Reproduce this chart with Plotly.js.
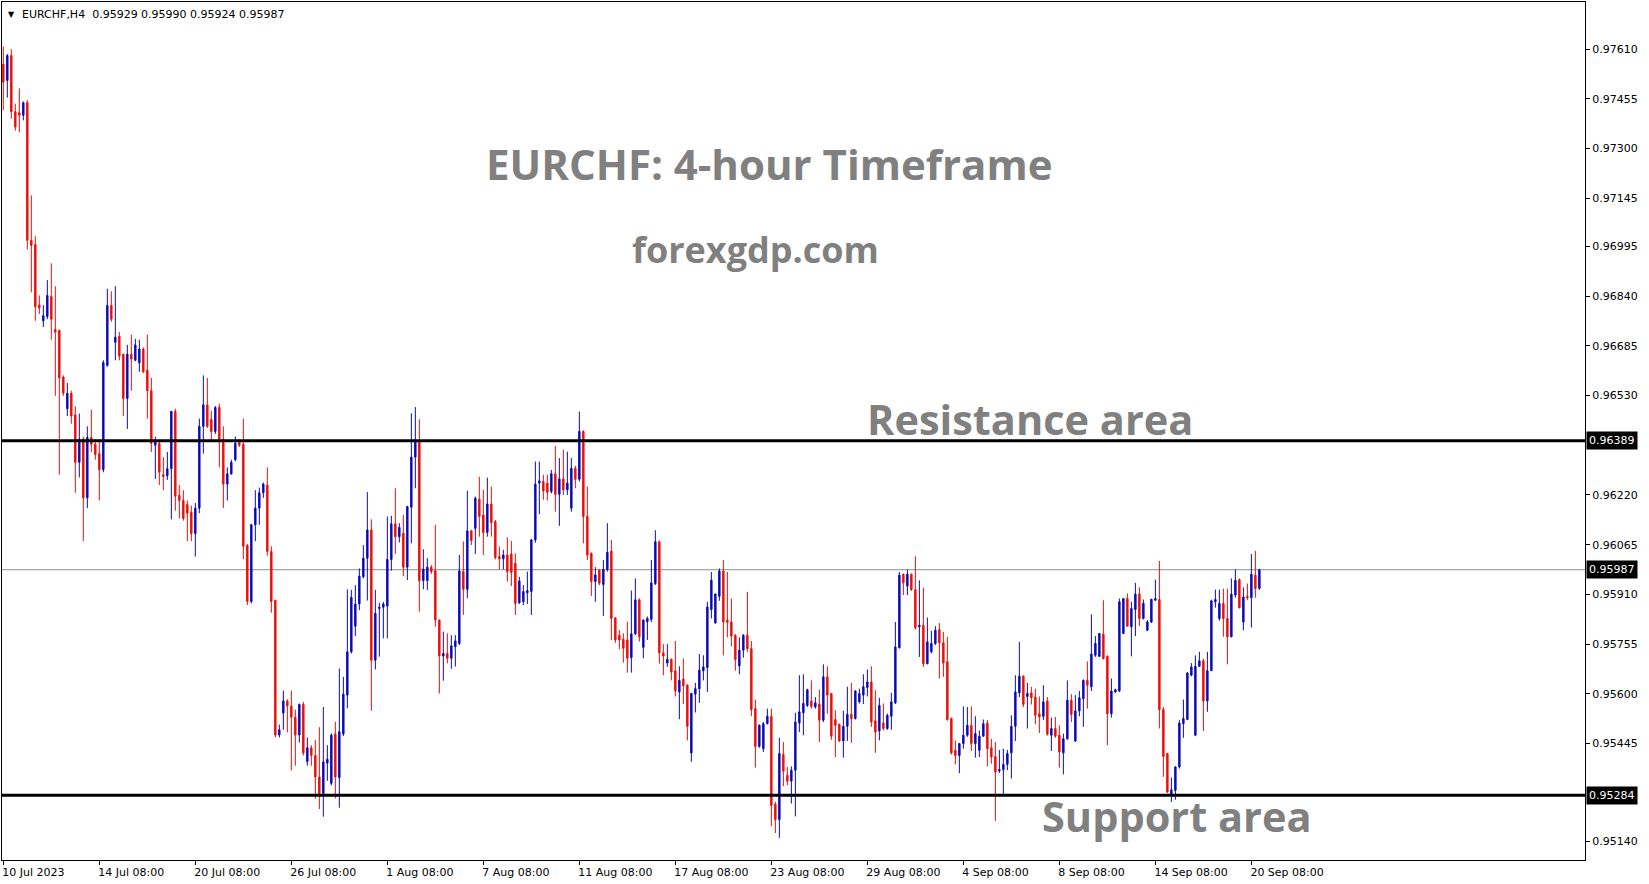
<!DOCTYPE html>
<html>
<head>
<meta charset="utf-8">
<script src="https://cdn.plot.ly/plotly-3.0.1.min.js"></script>
<style>
  html, body { margin: 0; padding: 0; background: #ffffff; }
  #chart { width: 1649px; height: 884px; }
</style>
</head>
<body>
<div id="chart"></div>
<script>
// EURCHF 4-hour candles, 10 Jul 2023 08:00 through 20 Sep 2023 16:00
const symbol = "EURCHF,H4";
const firstBarTime = "2023-07-10T08:00:00Z";

const openPrices = [
  0.97563,0.97512,0.97590,0.97415,0.97412,0.97404,0.97443,0.97014,0.97001,0.96812,
  0.96763,0.96776,0.96839,0.96736,0.96733,0.96588,0.96489,0.96537,0.96470,0.96322,
  0.96394,0.96211,0.96399,0.96378,0.96349,0.96299,0.96624,0.96811,0.96696,0.96715,
  0.96659,0.96521,0.96659,0.96640,0.96632,0.96675,0.96609,0.96545,0.96375,0.96381,
  0.96283,0.96280,0.96302,0.96481,0.96219,0.96203,0.96190,0.96166,0.96100,0.96179,
  0.96434,0.96501,0.96456,0.96418,0.96493,0.96394,0.96254,0.96286,0.96330,0.96389,
  0.96378,0.96063,0.95888,0.96127,0.96179,0.96227,0.96251,0.96044,0.95892,0.95472,
  0.95540,0.95578,0.95562,0.95527,0.95472,0.95567,0.95389,0.95432,0.95408,0.95341,
  0.95289,0.95384,0.95321,0.95475,0.95339,0.95475,0.95596,0.95731,0.95811,0.95880,
  0.95965,0.96023,0.96111,0.95705,0.95866,0.95870,0.95874,0.96019,0.96130,0.96090,
  0.96101,0.95995,0.96182,0.96338,0.96389,0.95953,0.95953,0.95995,0.95984,0.95830,
  0.95718,0.95726,0.95711,0.95747,0.95757,0.95981,0.95926,0.96108,0.96116,0.96207,
  0.96158,0.96103,0.96192,0.96137,0.96028,0.96021,0.96033,0.96036,0.96007,0.95884,
  0.95887,0.95915,0.95919,0.96080,0.96257,0.96262,0.96257,0.96231,0.96286,0.96222,
  0.96270,0.96236,0.96179,0.96303,0.96269,0.96418,0.96153,0.96038,0.95950,0.95986,
  0.95941,0.95988,0.96045,0.95837,0.95783,0.95770,0.95768,0.95713,0.95787,0.95893,
  0.95745,0.95825,0.95832,0.95944,0.96074,0.95728,0.95696,0.95708,0.95672,0.95606,
  0.95646,0.95627,0.95416,0.95599,0.95616,0.95672,0.95682,0.95863,0.95821,0.95904,
  0.95983,0.95830,0.95824,0.95783,0.95687,0.95736,0.95783,0.95741,0.95554,0.95436,
  0.95429,0.95507,0.95530,0.95256,0.95208,0.95411,0.95346,0.95328,0.95362,0.95509,
  0.95541,0.95564,0.95578,0.95559,0.95568,0.95518,0.95653,0.95601,0.95520,0.95505,
  0.95453,0.95499,0.95536,0.95523,0.95575,0.95596,0.95620,0.95637,0.95516,0.95484,
  0.95509,0.95492,0.95530,0.95572,0.95744,0.95973,0.95936,0.95973,0.95925,0.95809,
  0.95814,0.95694,0.95731,0.95757,0.95800,0.95759,0.95700,0.95523,0.95424,0.95408,
  0.95445,0.95471,0.95502,0.95445,0.95424,0.95468,0.95509,0.95432,0.95405,0.95360,
  0.95364,0.95380,0.95416,0.95499,0.95603,0.95655,0.95592,0.95603,0.95590,0.95538,
  0.95530,0.95578,0.95471,0.95492,0.95471,0.95416,0.95460,0.95580,0.95453,0.95547,
  0.95585,0.95642,0.95622,0.95720,0.95717,0.95786,0.95717,0.95538,0.95606,0.95609,
  0.95788,0.95897,0.95809,0.95863,0.95911,0.95835,0.95798,0.95824,0.95892,0.95894,
  0.95551,0.95414,0.95284,0.95299,0.95372,0.95507,0.95520,0.95658,0.95471,0.95686,
  0.95703,0.95578,0.95672,0.95887,0.95835,0.95882,0.95835,0.95778,0.95908,0.95956,
  0.95824,0.95904,0.95900,0.95970,0.95929
];

const highPrices = [
  0.97618,0.97595,0.97610,0.97440,0.97488,0.97447,0.97451,0.97154,0.97027,0.96842,
  0.96812,0.96890,0.96942,0.96871,0.96736,0.96593,0.96569,0.96545,0.96497,0.96474,
  0.96402,0.96434,0.96486,0.96394,0.96394,0.96640,0.96863,0.96855,0.96871,0.96728,
  0.96659,0.96688,0.96720,0.96707,0.96704,0.96680,0.96720,0.96585,0.96402,0.96386,
  0.96338,0.96354,0.96481,0.96489,0.96251,0.96235,0.96203,0.96187,0.96195,0.96458,
  0.96593,0.96585,0.96482,0.96497,0.96505,0.96434,0.96306,0.96330,0.96402,0.96394,
  0.96458,0.96068,0.96130,0.96235,0.96243,0.96259,0.96306,0.96060,0.95893,0.95504,
  0.95610,0.95583,0.95610,0.95551,0.95570,0.95575,0.95464,0.95440,0.95456,0.95496,
  0.95559,0.95440,0.95477,0.95513,0.95679,0.95653,0.95926,0.95924,0.95939,0.95991,
  0.96064,0.96229,0.96144,0.95924,0.95884,0.95887,0.96153,0.96155,0.96241,0.96132,
  0.96158,0.96186,0.96475,0.96494,0.96456,0.96051,0.96023,0.96002,0.96127,0.95832,
  0.95794,0.95789,0.95783,0.95783,0.96033,0.96075,0.96233,0.96111,0.96215,0.96277,
  0.96236,0.96274,0.96246,0.96142,0.96059,0.96049,0.96088,0.96077,0.96038,0.95965,
  0.95939,0.95981,0.96083,0.96324,0.96324,0.96283,0.96283,0.96298,0.96373,0.96335,
  0.96361,0.96355,0.96335,0.96311,0.96480,0.96422,0.96246,0.96041,0.95995,0.95988,
  0.96017,0.96132,0.96080,0.95838,0.95799,0.95789,0.95825,0.95922,0.95960,0.95898,
  0.95832,0.95841,0.96017,0.96110,0.96078,0.95755,0.95755,0.95710,0.95765,0.95686,
  0.95710,0.95630,0.95603,0.95634,0.95724,0.95720,0.95887,0.95980,0.95913,0.95991,
  0.96017,0.95980,0.95897,0.95786,0.95776,0.95786,0.95918,0.95765,0.95582,0.95505,
  0.95512,0.95554,0.95554,0.95263,0.95463,0.95450,0.95372,0.95374,0.95541,0.95658,
  0.95661,0.95616,0.95642,0.95590,0.95613,0.95692,0.95686,0.95603,0.95549,0.95507,
  0.95547,0.95622,0.95634,0.95611,0.95616,0.95661,0.95676,0.95686,0.95611,0.95588,
  0.95570,0.95538,0.95603,0.95824,0.95980,0.95975,0.95988,0.95975,0.96029,0.95954,
  0.95931,0.95838,0.95796,0.95811,0.95821,0.95793,0.95778,0.95526,0.95455,0.95447,
  0.95561,0.95559,0.95561,0.95530,0.95486,0.95520,0.95518,0.95460,0.95450,0.95425,
  0.95429,0.95425,0.95533,0.95658,0.95762,0.95658,0.95634,0.95622,0.95616,0.95592,
  0.95627,0.95590,0.95526,0.95528,0.95502,0.95476,0.95642,0.95599,0.95596,0.95609,
  0.95645,0.95701,0.95848,0.95780,0.95790,0.95892,0.95720,0.95648,0.95616,0.95897,
  0.95899,0.95913,0.95887,0.95946,0.95932,0.95894,0.95830,0.95896,0.95956,0.96014,
  0.95559,0.95416,0.95339,0.95374,0.95518,0.95582,0.95668,0.95696,0.95720,0.95731,
  0.95710,0.95731,0.95894,0.95925,0.95925,0.95928,0.95928,0.95960,0.95988,0.95960,
  0.95932,0.95944,0.96036,0.96046,0.95990
];

const lowPrices = [
  0.97420,0.97459,0.97393,0.97356,0.97351,0.97388,0.96985,0.96852,0.96763,0.96784,
  0.96744,0.96768,0.96704,0.96529,0.96283,0.96529,0.96466,0.96442,0.96227,0.96275,
  0.96076,0.96179,0.96354,0.96330,0.96203,0.96291,0.96620,0.96760,0.96640,0.96640,
  0.96466,0.96426,0.96545,0.96637,0.96604,0.96600,0.96458,0.96354,0.96270,0.96251,
  0.96235,0.96267,0.96144,0.96171,0.96147,0.96140,0.96076,0.96076,0.96028,0.96163,
  0.96349,0.96429,0.96386,0.96410,0.96306,0.96179,0.96203,0.96283,0.96325,0.96370,
  0.96020,0.95877,0.95882,0.96076,0.96127,0.96211,0.96031,0.95853,0.95464,0.95464,
  0.95488,0.95480,0.95361,0.95376,0.95448,0.95408,0.95376,0.95376,0.95273,0.95241,
  0.95217,0.95329,0.95315,0.95274,0.95245,0.95468,0.95555,0.95726,0.95780,0.95861,
  0.95960,0.95891,0.95547,0.95676,0.95716,0.95773,0.95773,0.95984,0.96036,0.96072,
  0.95967,0.95955,0.96069,0.96241,0.95856,0.95926,0.95924,0.95974,0.95809,0.95601,
  0.95641,0.95695,0.95678,0.95685,0.95752,0.95846,0.95898,0.96064,0.96036,0.96090,
  0.96033,0.96090,0.96090,0.96019,0.95988,0.95988,0.95950,0.95936,0.95846,0.95880,
  0.95877,0.95880,0.95846,0.96071,0.96160,0.96205,0.96203,0.96225,0.96168,0.96124,
  0.96220,0.96220,0.96168,0.96241,0.96262,0.96069,0.96017,0.95905,0.95887,0.95939,
  0.95843,0.95981,0.95768,0.95759,0.95739,0.95697,0.95666,0.95666,0.95783,0.95763,
  0.95711,0.95768,0.95824,0.95939,0.95694,0.95658,0.95684,0.95642,0.95592,0.95521,
  0.95568,0.95455,0.95388,0.95542,0.95572,0.95642,0.95606,0.95835,0.95819,0.95890,
  0.95720,0.95776,0.95748,0.95672,0.95661,0.95713,0.95731,0.95530,0.95370,0.95432,
  0.95419,0.95505,0.95187,0.95166,0.95151,0.95312,0.95315,0.95258,0.95218,0.95481,
  0.95471,0.95559,0.95554,0.95554,0.95450,0.95512,0.95538,0.95457,0.95403,0.95450,
  0.95401,0.95453,0.95447,0.95520,0.95570,0.95568,0.95592,0.95497,0.95416,0.95455,
  0.95486,0.95488,0.95488,0.95568,0.95741,0.95908,0.95908,0.95921,0.95800,0.95715,
  0.95684,0.95692,0.95726,0.95752,0.95648,0.95653,0.95516,0.95411,0.95380,0.95353,
  0.95429,0.95466,0.95422,0.95401,0.95403,0.95466,0.95374,0.95382,0.95204,0.95353,
  0.95281,0.95362,0.95336,0.95453,0.95590,0.95559,0.95492,0.95567,0.95505,0.95478,
  0.95518,0.95470,0.95422,0.95463,0.95370,0.95349,0.95457,0.95512,0.95450,0.95530,
  0.95497,0.95554,0.95609,0.95715,0.95715,0.95707,0.95440,0.95526,0.95603,0.95606,
  0.95786,0.95809,0.95717,0.95780,0.95811,0.95832,0.95796,0.95821,0.95890,0.95492,
  0.95341,0.95291,0.95263,0.95270,0.95367,0.95463,0.95518,0.95655,0.95468,0.95684,
  0.95484,0.95544,0.95672,0.95869,0.95828,0.95778,0.95692,0.95776,0.95900,0.95866,
  0.95798,0.95892,0.95807,0.95900,0.95924
];

const closePrices = [
  0.97507,0.97590,0.97415,0.97367,0.97404,0.97443,0.97014,0.96998,0.96807,0.96803,
  0.96779,0.96842,0.96768,0.96728,0.96585,0.96537,0.96537,0.96466,0.96322,0.96394,
  0.96211,0.96399,0.96378,0.96346,0.96299,0.96633,0.96811,0.96768,0.96712,0.96653,
  0.96521,0.96659,0.96644,0.96688,0.96675,0.96604,0.96545,0.96381,0.96386,0.96291,
  0.96278,0.96302,0.96481,0.96216,0.96203,0.96147,0.96163,0.96100,0.96179,0.96434,
  0.96501,0.96434,0.96418,0.96493,0.96394,0.96254,0.96286,0.96322,0.96381,0.96375,
  0.96060,0.95888,0.96127,0.96179,0.96227,0.96254,0.96044,0.95888,0.95472,0.95488,
  0.95578,0.95562,0.95527,0.95472,0.95567,0.95416,0.95432,0.95408,0.95341,0.95289,
  0.95388,0.95396,0.95471,0.95341,0.95482,0.95599,0.95731,0.95901,0.95880,0.95967,
  0.96023,0.96111,0.95705,0.95851,0.95870,0.95880,0.96019,0.96130,0.96090,0.96119,
  0.95995,0.96184,0.96338,0.96389,0.95953,0.95989,0.95995,0.95981,0.95830,0.95718,
  0.95726,0.95711,0.95750,0.95765,0.95983,0.95926,0.96108,0.96078,0.96210,0.96153,
  0.96103,0.96192,0.96134,0.96025,0.96021,0.96033,0.95981,0.95978,0.95882,0.95952,
  0.95919,0.95922,0.96080,0.96254,0.96264,0.96233,0.96228,0.96286,0.96222,0.96270,
  0.96236,0.96257,0.96303,0.96269,0.96418,0.96153,0.96033,0.95950,0.95971,0.95945,
  0.95988,0.96041,0.95835,0.95768,0.95768,0.95742,0.95711,0.95787,0.95893,0.95778,
  0.95830,0.95835,0.95946,0.96074,0.95728,0.95718,0.95708,0.95668,0.95609,0.95642,
  0.95625,0.95499,0.95601,0.95616,0.95674,0.95684,0.95871,0.95954,0.95911,0.95983,
  0.95824,0.95823,0.95780,0.95707,0.95736,0.95783,0.95741,0.95551,0.95436,0.95502,
  0.95507,0.95530,0.95252,0.95208,0.95414,0.95359,0.95328,0.95362,0.95512,0.95544,
  0.95570,0.95613,0.95561,0.95572,0.95518,0.95653,0.95596,0.95468,0.95502,0.95453,
  0.95499,0.95536,0.95523,0.95609,0.95601,0.95622,0.95637,0.95512,0.95481,0.95564,
  0.95492,0.95533,0.95575,0.95746,0.95970,0.95946,0.95973,0.95925,0.95806,0.95814,
  0.95694,0.95762,0.95757,0.95798,0.95759,0.95696,0.95520,0.95416,0.95408,0.95445,
  0.95471,0.95502,0.95445,0.95476,0.95468,0.95507,0.95429,0.95403,0.95356,0.95364,
  0.95380,0.95414,0.95499,0.95606,0.95655,0.95567,0.95601,0.95588,0.95533,0.95528,
  0.95575,0.95474,0.95492,0.95468,0.95419,0.95460,0.95580,0.95536,0.95547,0.95588,
  0.95642,0.95627,0.95724,0.95757,0.95788,0.95710,0.95538,0.95609,0.95613,0.95887,
  0.95897,0.95811,0.95866,0.95911,0.95835,0.95882,0.95824,0.95895,0.95897,0.95551,
  0.95405,0.95294,0.95301,0.95372,0.95509,0.95523,0.95665,0.95684,0.95686,0.95703,
  0.95578,0.95672,0.95890,0.95894,0.95882,0.95835,0.95778,0.95911,0.95954,0.95869,
  0.95902,0.95900,0.95973,0.95928,0.95987
];

// Horizontal levels
const resistanceLevel = 0.96389;
const supportLevel = 0.95284;
const bidLevel = 0.95987;

// Price scale labels
const priceTicks = [0.97610,0.97455,0.97300,0.97145,0.96995,0.96840,0.96685,0.96530,
                    0.96220,0.96065,0.95910,0.95755,0.95600,0.95445,0.95140];

// Time scale labels
const timeTicks = ["2023.07.10 08:00","2023.07.14 08:00","2023.07.20 08:00","2023.07.26 08:00",
                   "2023.08.01 08:00","2023.08.07 08:00","2023.08.11 08:00","2023.08.17 08:00",
                   "2023.08.23 08:00","2023.08.29 08:00","2023.09.04 08:00","2023.09.08 08:00",
                   "2023.09.14 08:00","2023.09.20 08:00"];
const timeTickLabels = ["10 Jul 2023","14 Jul 08:00","20 Jul 08:00","26 Jul 08:00",
                        "1 Aug 08:00","7 Aug 08:00","11 Aug 08:00","17 Aug 08:00",
                        "23 Aug 08:00","29 Aug 08:00","4 Sep 08:00","8 Sep 08:00",
                        "14 Sep 08:00","20 Sep 08:00"];

// Bar timestamps: 4-hour steps, weekends skipped
function pad(n) { return (n < 10 ? "0" : "") + n; }
const barTimes = [];
let t = new Date(firstBarTime).getTime();
while (barTimes.length < openPrices.length) {
  const d = new Date(t);
  const wd = d.getUTCDay();
  if (wd !== 0 && wd !== 6) {
    barTimes.push(d.getUTCFullYear() + "." + pad(d.getUTCMonth() + 1) + "." + pad(d.getUTCDate()) +
                  " " + pad(d.getUTCHours()) + ":00");
  }
  t += 4 * 3600 * 1000;
}

const bullColor = "#0c0cb4";
const bearColor = "#e8100c";
const axisFont = { family: "DejaVu Sans, Verdana, sans-serif", size: 11, color: "#000000" };
const bigText = { family: "Open Sans, sans-serif", size: 42, color: "#808080", weight: 700 };
const areaText = Object.assign({}, bigText, { size: 41.5 });

const n = openPrices.length;
const last = n - 1;
const headerText = symbol + "\u00a0\u00a0" +
  [openPrices[last], highPrices[last], lowPrices[last], closePrices[last]].map(v => v.toFixed(5)).join(" ");

const candles = {
  type: "candlestick",
  x: barTimes,
  open: openPrices,
  high: highPrices,
  low: lowPrices,
  close: closePrices,
  increasing: { line: { color: bullColor, width: 1 }, fillcolor: bullColor },
  decreasing: { line: { color: bearColor, width: 1 }, fillcolor: bearColor },
  whiskerwidth: 0,
  hoverinfo: "skip",
  showlegend: false
};

function levelLabel(v) {
  return {
    xref: "paper", x: 1, xanchor: "left", xshift: 1,
    yref: "y", y: v, yanchor: "middle",
    text: v.toFixed(5), showarrow: false,
    bgcolor: "#000000", borderpad: 2,
    font: { family: axisFont.family, size: 11, color: "#ffffff" }
  };
}

const layout = {
  width: 1649,
  height: 884,
  margin: { l: 2, r: 64, t: 2, b: 24, pad: 0 },
  paper_bgcolor: "#ffffff",
  plot_bgcolor: "#ffffff",
  showlegend: false,
  boxgap: 0.5,
  xaxis: {
    type: "category",
    range: [-0.33, 395.4],
    rangeslider: { visible: false },
    showgrid: false, zeroline: false,
    showline: true, mirror: true, linecolor: "#000000", linewidth: 1,
    ticks: "outside", ticklen: 4, tickcolor: "#000000", tickwidth: 1,
    tickmode: "array", tickvals: timeTicks, ticktext: timeTickLabels,
    ticklabelposition: "outside right",
    ticklabelstandoff: 2,
    ticklabelshift: -2,
    tickfont: axisFont,
    fixedrange: true
  },
  yaxis: {
    side: "right",
    range: [0.95082, 0.97757],
    showgrid: false, zeroline: false,
    showline: true, mirror: true, linecolor: "#000000", linewidth: 1,
    ticks: "outside", ticklen: 4, tickcolor: "#000000", tickwidth: 1,
    tickmode: "array", tickvals: priceTicks,
    ticktext: priceTicks.map(v => v.toFixed(5)),
    tickfont: axisFont,
    fixedrange: true
  },
  shapes: [
    { type: "line", xref: "paper", x0: 0, x1: 1, yref: "y", y0: bidLevel, y1: bidLevel,
      line: { color: "#8a9090", width: 1 }, layer: "below" },
    { type: "line", xref: "paper", x0: 0, x1: 1, yref: "y", y0: resistanceLevel, y1: resistanceLevel,
      line: { color: "#000000", width: 3 }, layer: "above" },
    { type: "line", xref: "paper", x0: 0, x1: 1, yref: "y", y0: supportLevel, y1: supportLevel,
      line: { color: "#000000", width: 3 }, layer: "above" }
  ],
  annotations: [
    { xref: "paper", yref: "paper", x: 0.0025, y: 0.986, xanchor: "left", yanchor: "middle",
      text: "\u25BC", showarrow: false, font: { family: axisFont.family, size: 8, color: "#000000" } },
    { xref: "paper", yref: "paper", x: 0.0114, y: 0.986, xanchor: "left", yanchor: "middle",
      text: headerText, showarrow: false, font: axisFont },
    { xref: "paper", yref: "paper", x: 0.4850, y: 0.8112, xanchor: "center", yanchor: "middle",
      text: "EURCHF: 4-hour Timeframe", showarrow: false, font: bigText },
    { xref: "paper", yref: "paper", x: 0.4763, y: 0.711, xanchor: "center", yanchor: "middle",
      text: "forexgdp.com", showarrow: false, font: Object.assign({}, bigText, { size: 36 }) },
    { xref: "paper", yref: "paper", x: 0.6494, y: 0.5142, xanchor: "center", yanchor: "middle",
      text: "Resistance area", showarrow: false, font: areaText },
    { xref: "paper", yref: "paper", x: 0.7423, y: 0.0515, xanchor: "center", yanchor: "middle",
      text: "Support area", showarrow: false, font: areaText },
    levelLabel(resistanceLevel),
    levelLabel(bidLevel),
    levelLabel(supportLevel)
  ]
};

Plotly.newPlot("chart", [candles], layout, { staticPlot: true, displayModeBar: false });
</script>
</body>
</html>
